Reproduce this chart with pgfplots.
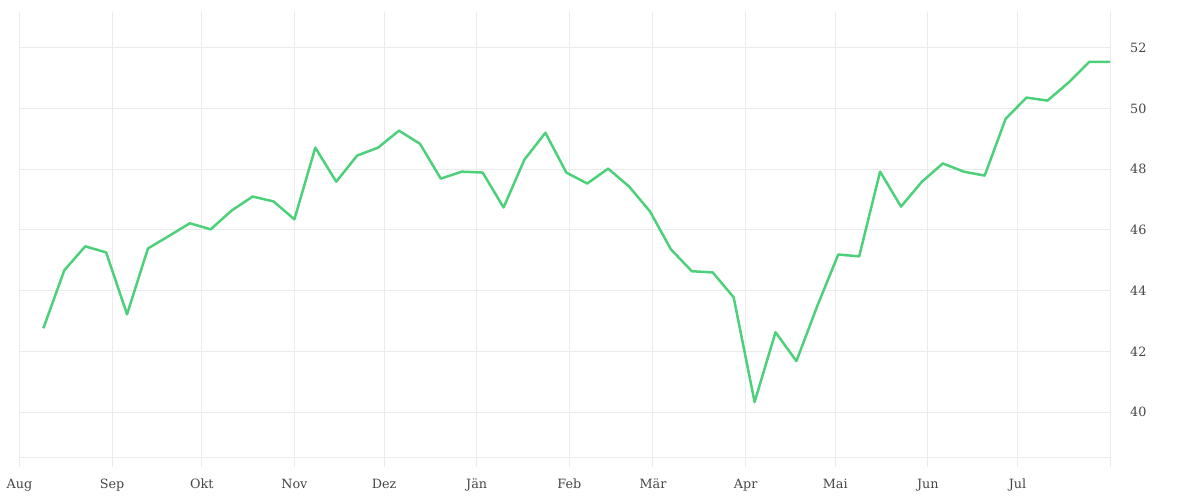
\documentclass[border=0pt]{standalone}
\usepackage{pgfplots}
\pgfplotsset{compat=1.18}
\usepackage{fontspec}
\setmainfont{DejaVu Serif}
\definecolor{linegreen}{RGB}{76,208,122}
\definecolor{gridgray}{RGB}{235,235,235}
\definecolor{labelgray}{RGB}{70,70,70}
\pgfplotstableread{
day val
8 42.76
15 44.67
22 45.46
29 45.26
36 43.22
43 45.39
50 45.80
57 46.22
64 46.02
71 46.64
78 47.10
85 46.94
92 46.35
99 48.71
106 47.59
113 48.45
120 48.71
127 49.27
134 48.84
141 47.69
148 47.92
155 47.89
162 46.74
169 48.32
176 49.20
183 47.89
190 47.53
197 48.02
204 47.43
211 46.61
218 45.36
225 44.64
232 44.60
239 43.78
246 40.33
253 42.63
260 41.68
267 43.50
274 45.19
281 45.13
288 47.92
295 46.77
302 47.59
309 48.19
316 47.92
323 47.79
330 49.66
337 50.36
344 50.26
351 50.85
358 51.54
365 51.54
}\datatable
\begin{document}
\begin{tikzpicture}
\begin{axis}[
  anchor=south west, at={(0,0)},
  scale only axis,
  width=546.5pt, height=228pt,
  xmin=0, xmax=365,
  ymin=38.19, ymax=53.18,
  axis line style={draw=none},
  xtick={0,31,61,92,122,153,184,212,243,273,304,334,365},
  xticklabels={Aug,Sep,Okt,Nov,Dez,Jän,Feb,Mär,Apr,Mai,Jun,Jul,},
  ytick={40,42,44,46,48,50,52},
  extra y ticks={38.52},
  extra y tick labels={},
  extra y tick style={grid=major, major grid style={gridgray, line width=0.5pt}},
  ytick pos=right,
  yticklabel pos=right,
  major tick length=0pt,
  xmajorgrids, ymajorgrids,
  major grid style={gridgray, line width=0.5pt},
  tick label style={font=\fontsize{6.4}{7}\selectfont, text=labelgray},
  xticklabel style={yshift=-2.5pt},
  yticklabel style={xshift=6.5pt, anchor=west},
  /pgf/number format/assume math mode=true,
  clip=false,
]
\addplot[linegreen, line width=1.25pt, line join=round] table[x=day, y=val] {\datatable};
\end{axis}
\path[use as bounding box] (-8.5pt,-16pt) rectangle (591.5pt,234pt);
\end{tikzpicture}
\end{document}
